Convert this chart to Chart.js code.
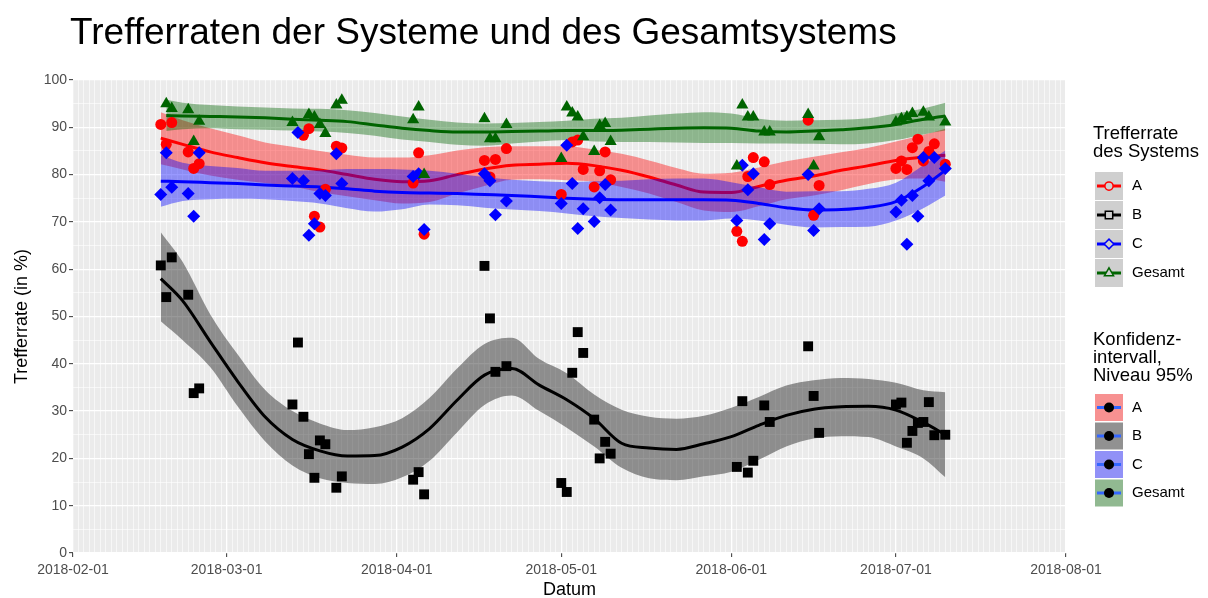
<!DOCTYPE html>
<html>
<head>
<meta charset="utf-8">
<title>Trefferraten der Systeme und des Gesamtsystems</title>
<script src="https://cdn.jsdelivr.net/npm/chart.js@4.4.1/dist/chart.umd.min.js"></script>
<style>
  html, body { margin: 0; padding: 0; background: #ffffff; }
  #wrap { position: relative; width: 1208px; height: 598px; }
</style>
</head>
<body>
<div id="wrap"><canvas id="chart"></canvas></div>
<script>
// measured points per system
const datesA = ['2018-02-17','2018-02-18','2018-02-19','2018-02-22','2018-02-23','2018-02-24','2018-03-15','2018-03-16','2018-03-17','2018-03-18','2018-03-19','2018-03-21','2018-03-22','2018-04-04','2018-04-05','2018-04-06','2018-04-17','2018-04-18','2018-04-19','2018-04-21','2018-05-01','2018-05-03','2018-05-04','2018-05-05','2018-05-07','2018-05-08','2018-05-09','2018-05-10','2018-06-02','2018-06-03','2018-06-04','2018-06-05','2018-06-07','2018-06-08','2018-06-15','2018-06-16','2018-06-17','2018-07-01','2018-07-02','2018-07-03','2018-07-04','2018-07-05','2018-07-06','2018-07-07','2018-07-08','2018-07-10'];
const valuesA = [90.6,86.4,91.0,84.8,81.3,82.3,88.3,89.7,71.2,68.9,76.9,86.0,85.6,78.2,84.6,67.4,83.0,79.5,83.2,85.5,75.8,86.9,87.3,81.1,77.4,80.8,84.8,78.9,68.0,65.9,79.6,83.6,82.7,77.9,91.5,71.4,77.7,81.3,82.9,81.1,85.7,87.5,82.9,84.9,86.5,82.2];

const datesB = ['2018-02-17','2018-02-18','2018-02-19','2018-02-22','2018-02-23','2018-02-24','2018-03-13','2018-03-14','2018-03-15','2018-03-16','2018-03-17','2018-03-18','2018-03-19','2018-03-21','2018-03-22','2018-04-04','2018-04-05','2018-04-06','2018-04-17','2018-04-18','2018-04-19','2018-04-21','2018-05-01','2018-05-02','2018-05-03','2018-05-04','2018-05-05','2018-05-07','2018-05-08','2018-05-09','2018-05-10','2018-06-02','2018-06-03','2018-06-04','2018-06-05','2018-06-07','2018-06-08','2018-06-15','2018-06-16','2018-06-17','2018-07-01','2018-07-02','2018-07-03','2018-07-04','2018-07-05','2018-07-06','2018-07-07','2018-07-08','2018-07-10'];
const valuesB = [60.8,54.1,62.5,54.6,33.8,34.8,31.4,44.5,28.8,20.9,15.9,23.8,23.0,13.8,16.2,15.5,17.1,12.4,60.7,49.6,38.3,39.5,14.8,12.9,38.1,46.7,42.3,28.2,20.0,23.5,21.0,18.2,32.1,17.0,19.5,31.2,27.7,43.7,33.2,25.4,31.4,31.8,23.3,25.8,27.5,27.7,31.9,24.9,25.0];

const datesC = datesB;
const valuesC = [75.8,84.6,77.3,76.0,71.2,84.6,79.2,88.9,78.7,67.2,69.6,76.0,75.6,84.4,78.1,79.6,80.2,68.4,80.2,78.7,71.5,74.4,73.9,86.2,78.1,68.6,72.8,70.1,75.1,77.9,72.5,70.3,82.0,76.8,80.2,66.3,69.6,80.0,68.2,72.8,72.1,74.6,65.3,75.6,71.2,83.6,78.7,83.6,81.3];

const datesG = ['2018-02-18','2018-02-19','2018-02-22','2018-02-23','2018-02-24','2018-03-13','2018-03-16','2018-03-17','2018-03-18','2018-03-19','2018-03-21','2018-03-22','2018-04-04','2018-04-05','2018-04-06','2018-04-17','2018-04-18','2018-04-19','2018-04-21','2018-05-01','2018-05-02','2018-05-03','2018-05-04','2018-05-05','2018-05-07','2018-05-08','2018-05-09','2018-05-10','2018-06-02','2018-06-03','2018-06-04','2018-06-05','2018-06-07','2018-06-08','2018-06-15','2018-06-16','2018-06-17','2018-07-01','2018-07-02','2018-07-03','2018-07-04','2018-07-06','2018-07-07','2018-07-10'];
const valuesG = [95.0,94.0,93.7,87.0,91.3,91.0,92.7,92.2,90.6,88.7,94.7,95.7,91.6,94.3,80.0,91.8,87.6,87.6,90.6,83.4,94.3,93.0,92.2,88.0,84.9,90.4,90.8,87.0,81.8,94.7,92.2,92.2,89.0,89.0,92.7,81.8,88.0,91.1,91.8,92.2,92.9,93.2,92.2,91.1];

// smoothed curves (loess) with 95% band
const fitDates = ['2018-02-17','2018-02-21','2018-02-26','2018-03-03','2018-03-08','2018-03-13','2018-03-18','2018-03-23','2018-03-28','2018-04-02','2018-04-07','2018-04-12','2018-04-17','2018-04-22','2018-04-27','2018-05-02','2018-05-07','2018-05-12','2018-05-17','2018-05-22','2018-05-27','2018-06-01','2018-06-06','2018-06-11','2018-06-16','2018-06-21','2018-06-26','2018-07-01','2018-07-06','2018-07-10'];
const fitDatesG = ['2018-02-18'].concat(fitDates.slice(1));

const fitA   = [87.7,86.4,84.8,83.6,82.5,81.7,81.0,80.0,79.0,78.5,78.7,80.0,81.2,82.0,82.2,82.4,81.9,80.9,79.5,77.8,76.3,76.2,77.5,78.8,79.7,80.9,81.9,83.0,83.7,84.1];
const upperA = [93.2,91.5,89.8,88.3,86.8,85.9,85.0,84.2,83.6,83.6,84.1,85.1,85.8,86.0,86.0,86.0,85.3,84.4,83.0,81.4,80.2,80.4,81.5,82.8,83.8,84.7,85.7,87.0,88.4,89.7];
const lowerA = [82.2,81.1,79.8,78.9,78.2,77.5,76.3,75.4,74.6,73.9,74.2,76.0,77.6,78.9,79.0,78.8,78.5,77.4,76.0,74.2,72.4,72.1,73.3,74.8,75.6,76.7,78.0,79.0,79.2,78.5];

const fitB   = [58.0,53.3,44.7,36.3,28.8,24.0,21.6,20.5,20.6,22.4,26.3,32.3,37.6,39.0,35.5,32.4,28.4,23.2,22.2,21.9,23.1,24.6,27.0,29.1,30.4,30.9,31.0,30.2,27.6,25.0];
const upperB = [67.8,61.5,50.5,42.0,34.5,30.0,27.4,26.0,26.6,28.5,32.8,39.0,44.2,45.5,41.0,38.0,33.5,30.3,28.8,28.4,29.0,30.7,33.0,35.4,36.5,37.0,36.8,36.0,34.4,34.0];
const lowerB = [49.0,45.0,39.3,31.0,23.6,18.5,15.8,14.8,14.6,16.0,19.5,25.5,31.3,33.3,30.0,26.5,22.5,18.0,15.8,15.4,16.2,17.2,19.7,22.5,24.2,24.7,24.5,22.5,20.0,16.0];

const fitC   = [78.6,78.5,78.3,78.1,77.8,77.6,77.4,77.0,76.5,76.2,76.1,76.0,75.8,75.6,75.3,75.0,74.8,74.7,74.7,74.7,74.7,74.6,73.9,73.0,72.5,72.6,73.1,74.3,77.5,80.9];
const upperC = [84.1,82.5,81.8,81.4,80.8,80.8,80.9,81.2,81.2,81.1,80.8,80.2,79.5,78.9,78.6,78.4,78.6,78.7,79.0,79.2,79.2,78.4,77.3,76.4,76.5,76.5,77.0,78.3,82.0,85.1];
const lowerC = [73.2,74.4,74.8,74.9,74.8,74.4,73.9,72.9,72.2,72.7,73.7,73.5,73.0,72.6,72.3,71.8,71.2,70.8,70.5,70.3,70.3,70.7,70.3,69.4,68.8,68.9,69.0,70.3,72.9,75.6];

const fitG   = [92.5,92.4,92.3,92.2,92.0,91.7,91.5,91.2,90.5,89.8,89.3,89.0,89.0,89.1,89.2,89.3,89.3,89.4,89.6,89.8,89.9,89.8,89.2,89.0,89.2,89.5,89.9,90.6,91.7,92.4];
const upperG = [95.8,95.2,94.7,94.4,94.2,94.0,93.9,93.6,93.0,92.3,91.6,91.0,90.8,90.9,91.1,91.4,91.8,92.0,92.5,92.9,93.2,92.9,91.8,91.4,91.5,91.6,91.9,92.9,94.0,95.2];
const lowerG = [89.2,89.6,89.8,89.6,89.5,89.3,89.1,88.8,88.2,87.4,86.9,86.3,86.1,86.6,87.0,87.3,87.0,86.9,86.9,86.8,86.7,86.7,86.6,86.6,86.5,86.4,86.6,87.3,88.5,89.3];

const xTickLabels = ['2018-02-01','2018-03-01','2018-04-01','2018-05-01','2018-06-01','2018-07-01','2018-08-01'];
const yTickLabels = [0,10,20,30,40,50,60,70,80,90,100];
const systems = ['A','B','C','Gesamt'];

const FONT = "'Liberation Sans', Arial, Helvetica, sans-serif";
const DAY = 86400000;
const origin = Date.parse(xTickLabels[0]);
const toDay = s => (Date.parse(s) - origin) / DAY;
const dayLabel = d => new Date(origin + d * DAY).toISOString().slice(0, 10);
const monthDays = xTickLabels.map(toDay);
const pts = (dates, values) => dates.map((d, i) => ({ x: toDay(d), y: values[i] }));

const lineColors = ['#FF0000', '#000000', '#0000FF', '#006400'];
const bandColors = ['rgba(255,0,0,0.4)', 'rgba(0,0,0,0.4)', 'rgba(0,0,255,0.4)', 'rgba(0,100,0,0.4)'];
const keyFills = ['#F79191', '#919191', '#9191F7', '#91B991'];
const shapes = ['circle', 'rect', 'rectRot', 'triangle'];
const radii = [5.5, 7, 6.5, 7];

const fits = [
  [fitDates, fitA, upperA, lowerA],
  [fitDates, fitB, upperB, lowerB],
  [fitDates, fitC, upperC, lowerC],
  [fitDatesG, fitG, upperG, lowerG]
];
const points = [[datesA, valuesA], [datesB, valuesB], [datesC, valuesC], [datesG, valuesG]];

const smooth = { showLine: true, pointRadius: 0, cubicInterpolationMode: 'monotone' };
const datasets = [];
fits.forEach(([dates, fit, up, low], i) => {
  const base = 20 - i * 2;
  datasets.push(Object.assign({ label: systems[i] + ' oben', data: pts(dates, up), borderWidth: 0, fill: '+1', backgroundColor: bandColors[i], order: base }, smooth));
  datasets.push(Object.assign({ label: systems[i] + ' unten', data: pts(dates, low), borderWidth: 0, fill: false, order: base }, smooth));
  datasets.push(Object.assign({ label: systems[i] + ' Glättung', data: pts(dates, fit), borderWidth: 3, borderColor: lineColors[i], fill: false, order: base - 1 }, smooth));
});
points.forEach(([dates, values], i) => {
  datasets.push({
    label: systems[i],
    data: pts(dates, values),
    showLine: false,
    pointStyle: shapes[i],
    pointRadius: radii[i],
    pointBackgroundColor: lineColors[i],
    pointBorderWidth: 0,
    order: 4 - i
  });
});

const decor = {
  id: 'decor',
  beforeDraw(chart) {
    const { ctx, chartArea: a } = chart;
    ctx.save();
    ctx.fillStyle = '#EBEBEB';
    ctx.fillRect(a.left, a.top, a.right - a.left, a.bottom - a.top);
    ctx.restore();
  },
  afterDraw(chart) {
    const { ctx, chartArea: a } = chart;
    ctx.save();
    ctx.fillStyle = '#000000';
    ctx.textBaseline = 'alphabetic';
    ctx.font = '37px ' + FONT;
    ctx.fillText('Trefferraten der Systeme und des Gesamtsystems', 70, 44);

    // axis titles
    ctx.font = '18px ' + FONT;
    ctx.textAlign = 'center';
    ctx.textBaseline = 'middle';
    ctx.fillText('Datum', (a.left + a.right) / 2, 590);
    ctx.save();
    ctx.translate(22, (a.top + a.bottom) / 2);
    ctx.rotate(-Math.PI / 2);
    ctx.fillText('Trefferrate (in %)', 0, 0);
    ctx.restore();

    // legend 1: systems
    ctx.textAlign = 'left';
    ctx.font = '18.5px ' + FONT;
    ctx.fillText('Trefferrate', 1093, 134);
    ctx.fillText('des Systems', 1093, 152);
    const kx = 1095, kw = 28;
    systems.forEach((s, i) => {
      const top = 172 + i * 29, cy = top + 14;
      ctx.fillStyle = '#CFCFCF';
      ctx.fillRect(kx, top, kw, 28);
      ctx.strokeStyle = lineColors[i];
      ctx.lineWidth = 3;
      ctx.beginPath(); ctx.moveTo(kx + 2, cy); ctx.lineTo(kx + kw - 2, cy); ctx.stroke();
      ctx.fillStyle = '#CFCFCF';
      ctx.lineWidth = 1.5;
      Chart.helpers.drawPoint(ctx, { pointStyle: shapes[i], radius: radii[i] * 0.75, borderWidth: 1.5, rotation: 0 }, kx + kw / 2, cy);
      ctx.fillStyle = '#000000';
      ctx.font = '15px ' + FONT;
      ctx.fillText(s, 1132, cy);
      ctx.font = '18.5px ' + FONT;
    });

    // legend 2: confidence bands
    ctx.fillStyle = '#000000';
    ctx.fillText('Konfidenz-', 1093, 340);
    ctx.fillText('intervall,', 1093, 358);
    ctx.fillText('Niveau 95%', 1093, 376);
    systems.forEach((s, i) => {
      const top = 394 + i * 28.5, cy = top + 13.5;
      ctx.fillStyle = keyFills[i];
      ctx.fillRect(kx, top, kw, 27);
      ctx.strokeStyle = '#3366FF';
      ctx.lineWidth = 3;
      ctx.beginPath(); ctx.moveTo(kx + 2, cy); ctx.lineTo(kx + kw - 2, cy); ctx.stroke();
      ctx.fillStyle = '#000000';
      ctx.beginPath(); ctx.arc(kx + kw / 2, cy, 5, 0, Math.PI * 2); ctx.fill();
      ctx.font = '15px ' + FONT;
      ctx.fillText(s, 1132, cy);
    });
    ctx.restore();
  }
};

Chart.defaults.font.family = FONT;

new Chart(document.getElementById('chart'), {
  type: 'scatter',
  data: { datasets },
  plugins: [decor],
  options: {
    responsive: true,
    maintainAspectRatio: false,
    animation: false,
    events: [],
    layout: { padding: { top: 80, right: 142, bottom: 0, left: 0 } },
    plugins: { legend: { display: false }, tooltip: { enabled: false } },
    scales: {
      x: {
        type: 'linear',
        min: monthDays[0],
        max: monthDays[monthDays.length - 1],
        afterBuildTicks: s => {
          s.ticks = Array.from({ length: monthDays[monthDays.length - 1] + 1 }, (_, i) => ({ value: i }));
        },
        afterFit: s => { s.height = 45; },
        border: { display: false },
        grid: {
          color: '#FFFFFF',
          lineWidth: c => monthDays.includes(c.tick && c.tick.value) ? 1.3 : 0.6,
          tickColor: c => monthDays.includes(c.tick && c.tick.value) ? '#333333' : 'rgba(0,0,0,0)',
          tickLength: 4,
          tickWidth: 1
        },
        ticks: {
          autoSkip: false,
          maxRotation: 0,
          minRotation: 0,
          padding: 5,
          color: '#4D4D4D',
          font: { size: 14 },
          callback: v => monthDays.includes(v) ? dayLabel(v) : ''
        }
      },
      y: {
        min: yTickLabels[0],
        max: yTickLabels[yTickLabels.length - 1],
        afterFit: s => { s.width = 73; },
        border: { display: false },
        grid: {
          color: '#FFFFFF',
          lineWidth: c => yTickLabels.includes(c.tick && c.tick.value) ? 1.3 : 0.6,
          tickColor: c => yTickLabels.includes(c.tick && c.tick.value) ? '#333333' : 'rgba(0,0,0,0)',
          tickLength: 4,
          tickWidth: 1
        },
        ticks: {
          stepSize: 5,
          autoSkip: false,
          padding: 2,
          color: '#4D4D4D',
          font: { size: 14 },
          callback: v => yTickLabels.includes(v) ? v : ''
        }
      }
    }
  }
});
</script>
</body>
</html>
